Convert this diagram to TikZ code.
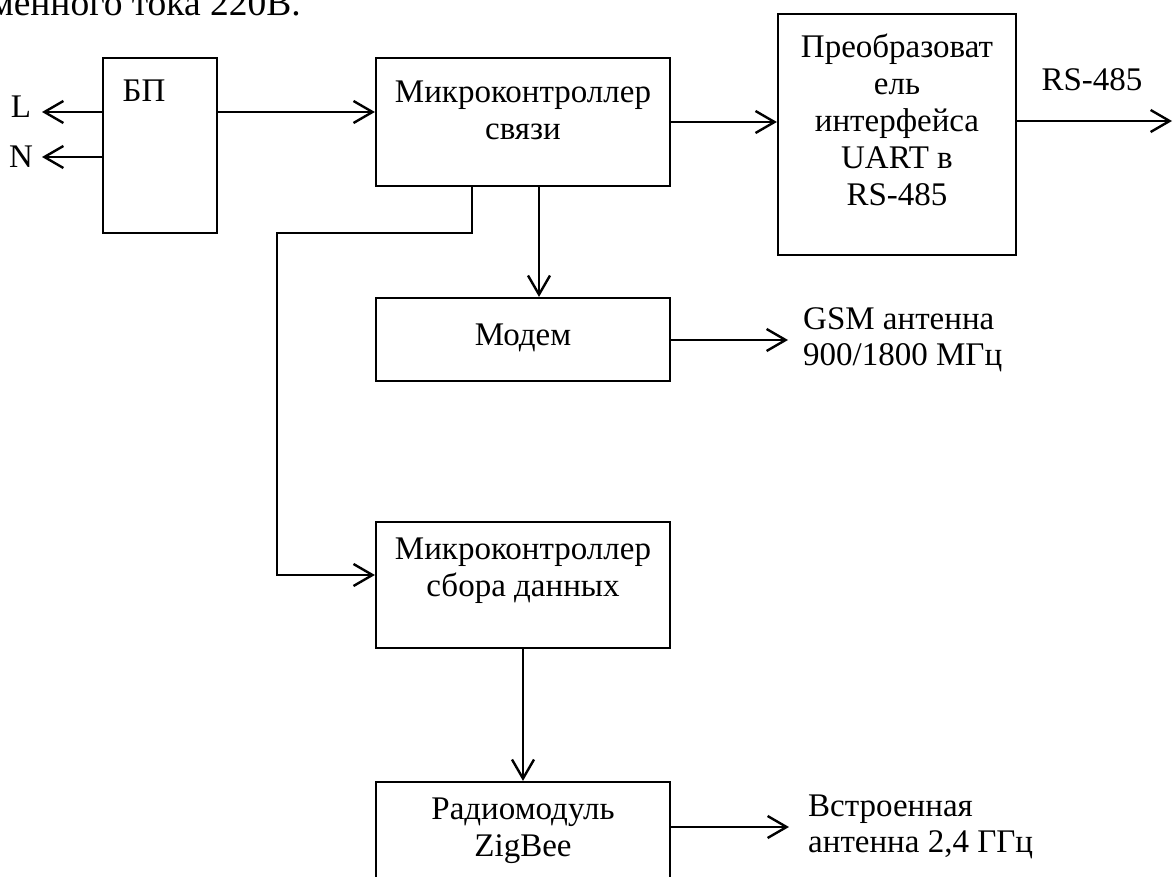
\documentclass[tikz,border=0pt]{standalone}
\usepackage{fontspec}
\setmainfont{Liberation Serif}
\usetikzlibrary{arrows.meta}
\begin{document}
\begin{tikzpicture}[x=1pt,y=-1pt,
  box/.style={draw, line width=2.2pt, inner sep=0pt},
  txt/.style={font=\fontsize{33}{37}\selectfont, align=center, inner sep=0pt},
  ltxt/.style={font=\fontsize{33}{36}\selectfont, align=left, inner sep=0pt},
  arr/.style={line width=2.4pt, -{Straight Barb[length=19pt,width=22pt,line width=2.4pt]}},
  ln/.style={line width=2.4pt}]
\useasboundingbox (0,0) rectangle (1173,877);
\clip (0,0) rectangle (1173,877);
\fill[white] (0,0) rectangle (1173,877);

% boxes
\node[box, minimum width=114pt, minimum height=175pt] (bp) at (160,145.5) {};
\node[box, minimum width=294pt, minimum height=128pt] (mc1) at (523,122) {};
\node[box, minimum width=238pt, minimum height=241pt] (pr) at (897,134.5) {};
\node[box, minimum width=294pt, minimum height=83pt] (mod) at (523,339.5) {};
\node[box, minimum width=294pt, minimum height=126pt] (mc2) at (523,585) {};
\node[box, minimum width=294pt, minimum height=118pt] (rad) at (523,841) {};

% texts
\node[txt, font=\fontsize{37.5}{40}\selectfont, anchor=base east] (top) at (301,16) {переменного тока 220В.};
\node[txt] (bpt) at (144,91) {БП};
\node[txt] (lt) at (21,107) {L};
\node[txt] (nt) at (21,157) {N};
\node[txt] (mc1t) at (523,110) {Микроконтроллер\\связи};
\node[txt] (prt) at (897,120) {Преобразоват\\ель\\интерфейса\\UART в\\RS-485};
\node[txt] (rst) at (1092,80) {RS-485};
\node[txt] (modt) at (523,338) {Модем};
\node[ltxt, anchor=west] (gsm) at (803,340) {GSM антенна\\900/1800 МГц};
\node[txt] (mc2t) at (523,571) {Микроконтроллер\\сбора данных};
\node[txt] (radt) at (523,831) {Радиомодуль\\ZigBee};
\node[ltxt, anchor=west] (ant) at (808,827) {Встроенная\\антенна 2,4 ГГц};

% coordinates
\coordinate (lend) at (42,112);
\coordinate (nend) at (42,157);
\coordinate (rsend) at (1172,121);
\coordinate (b1) at (472,233);
\coordinate (b2) at (277,233);
\coordinate (b3) at (277,575);
\coordinate (m1) at (539,0);
\coordinate (gsmend) at (788,340);
\coordinate (antend) at (789,827);

% connectors
\draw[arr] (bp.west |- lend) -- (lend);
\draw[arr] (bp.west |- nend) -- (nend);
\draw[arr] (bp.east |- lend) -- (mc1.west |- lend);
\draw[arr] (mc1.east) -- (pr.west |- mc1.east);
\draw[arr] (pr.east |- rsend) -- (rsend);
\draw[arr] (mc1.south -| b1) -- (b1) -- (b2) -- (b3) -- (mc2.west |- b3);
\draw[arr] (mc1.south -| m1) -- (mod.north -| m1);
\draw[arr] (mod.east |- gsmend) -- (gsmend);
\draw[arr] (mc2.south) -- (rad.north);
\draw[arr] (rad.east |- antend) -- (antend);
\end{tikzpicture}
\end{document}
